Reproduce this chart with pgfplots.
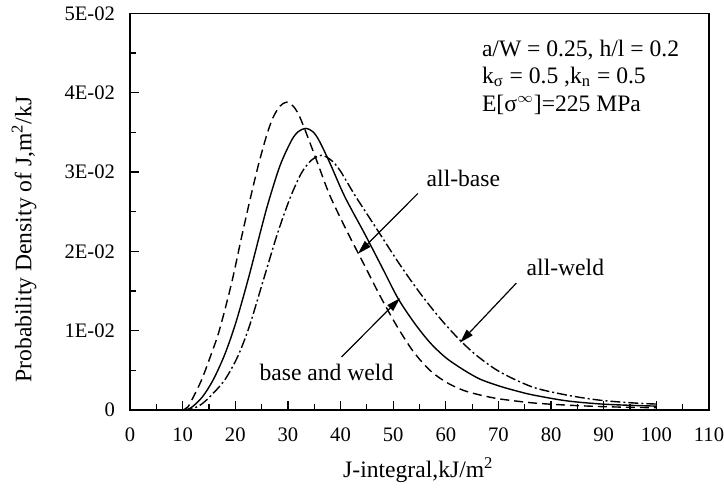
\documentclass[border=0pt]{standalone}
\usepackage{pgfplots}
\pgfplotsset{compat=1.18}
\usepackage{pgfplotstable}
\usepackage{fontspec}
\setmainfont{Liberation Serif}
\usetikzlibrary{arrows.meta}

\pgfplotstableread{
x y
10 0
11 0.0004
12 0.0016
13.6 0.0038
15.3 0.0068
17.0 0.0101
19.3 0.0160
21.2 0.0218
22.8 0.0265
24.4 0.0309
26.0 0.0347
27.2 0.0369
28.5 0.0383
29.75 0.0388
31.0 0.0383
32.0 0.0373
33.2 0.0354
35.6 0.0312
38.0 0.0270
41.4 0.0223
44.5 0.0183
47.5 0.0144
50.6 0.0107
53.8 0.0074
57.0 0.0050
60.1 0.0035
63.3 0.0025
66.5 0.0019
70.3 0.0014
76.6 0.0009
82.9 0.00063
89.2 0.00045
95 0.00035
100 0.0003
}\dashedtab

\pgfplotstableread{
x y
10 0
11 0.0001
12 0.0005
13.8 0.0017
15.8 0.0038
18.0 0.0070
20.1 0.0110
22.5 0.0166
24.8 0.0225
26.3 0.0262
28.5 0.0308
30.7 0.0340
32.0 0.0351
33.4 0.0355
34.7 0.0351
35.9 0.0340
38.0 0.0311
40.8 0.0269
44.6 0.0222
47.8 0.0181
50.9 0.0141
54.0 0.0110
57.0 0.0085
60.0 0.0066
63.3 0.0051
66.5 0.0039
70.3 0.0030
73.5 0.0024
76.6 0.0019
82.9 0.00117
89.2 0.00078
95 0.0006
100 0.0005
}\solidtab

\pgfplotstableread{
x y
10 0
11 0.00005
12 0.0002
13.5 0.0007
15.2 0.0017
18.0 0.0038
20.5 0.0068
22.7 0.0106
25.3 0.0163
28.0 0.0222
30.4 0.0267
32.6 0.0299
34.5 0.0315
36.4 0.0321
38.2 0.0315
39.9 0.0302
42.7 0.0271
46.8 0.0229
50.6 0.0190
53.5 0.0162
56.3 0.0137
59.5 0.0111
62.7 0.0088
66.0 0.0068
70.3 0.0048
76.5 0.0029
82.9 0.0019
89.2 0.00125
95.6 0.0009
100 0.00076
}\dashdottab

\begin{document}
\begin{tikzpicture}[font=\fontsize{11.8}{13.5}\selectfont]
\begin{axis}[
  width=289.5pt, height=198.4pt, scale only axis,
  xmin=0, xmax=110, ymin=0, ymax=0.05,
  xtick={0,10,...,110},
  minor x tick num=1,
  ytick={0,0.01,0.02,0.03,0.04,0.05},
  yticklabels={0,1E-02,2E-02,3E-02,4E-02,5E-02},
  minor y tick num=1,
  scaled y ticks=false,
  tick align=inside,
  xtick pos=bottom, ytick pos=left,
  major tick length=4.5pt, minor tick length=2.8pt,
  every tick/.style={black, line width=0.6pt},
  axis line style={line width=0.6pt},
  /pgf/number format/assume math mode=true,
  tick label style={font=\fontsize{10.3}{12}\selectfont},
  xticklabel style={yshift=-5.5pt},
  yticklabel style={xshift=-4pt},
  xlabel={J-integral,kJ/m\textsuperscript{2}},
  ylabel={Probability Density of J,m\textsuperscript{2}/kJ},
  xlabel style={at={(axis description cs:0.498,-0.151)}, anchor=center, inner sep=0pt},
  ylabel style={at={(axis description cs:-0.183,0.43)}, anchor=center, inner sep=0pt},
  clip=false,
]
\addplot[black, line width=0.7pt, dash pattern=on 4.5pt off 2.5pt, smooth] table[x=x,y=y]{\dashedtab};
\addplot[black, line width=0.7pt, smooth] table[x=x,y=y]{\solidtab};
\addplot[black, line width=0.7pt, dash pattern=on 5pt off 1.5pt on 1pt off 1.5pt, smooth] table[x=x,y=y]{\dashdottab};

\node[anchor=base west, inner sep=0pt] at (axis cs:66.8,0.04452) {a/W = 0.25, h/l = 0.2};
\node[anchor=base west, inner sep=0pt] at (axis cs:66.8,0.04117) {k\textsubscript{σ} = 0.5 ,k\textsubscript{n} = 0.5};
\node[anchor=base west, inner sep=0pt] at (axis cs:66.8,0.03768) {E[σ\textsuperscript{\fontsize{7.5}{8}\selectfont$\infty$}]=225 MPa};

\node[anchor=base west, inner sep=0pt] at (axis cs:56.3,0.02814) {all-base};
\node[anchor=base west, inner sep=0pt] at (axis cs:75.3,0.0170) {all-weld};
\node[anchor=base west, inner sep=0pt] at (axis cs:24.55,0.00378) {base and weld};

\draw[-{Triangle[length=7pt,width=4pt]}, line width=0.6pt] (axis cs:54.7,0.0273) -- (axis cs:43.3,0.0197);
\draw[-{Triangle[length=7pt,width=4pt]}, line width=0.6pt] (axis cs:73.4,0.0160) -- (axis cs:62.7,0.0085);
\draw[-{Triangle[length=7pt,width=4pt]}, line width=0.6pt] (axis cs:40.2,0.0067) -- (axis cs:51.3,0.0141);

\coordinate (bbll) at (axis description cs:-0.2245,-0.1941);
\coordinate (bbur) at (axis description cs:1.0259,1.0335);
\end{axis}
\pgfresetboundingbox
\path[use as bounding box] (bbll) rectangle (bbur);
\end{tikzpicture}
\end{document}
